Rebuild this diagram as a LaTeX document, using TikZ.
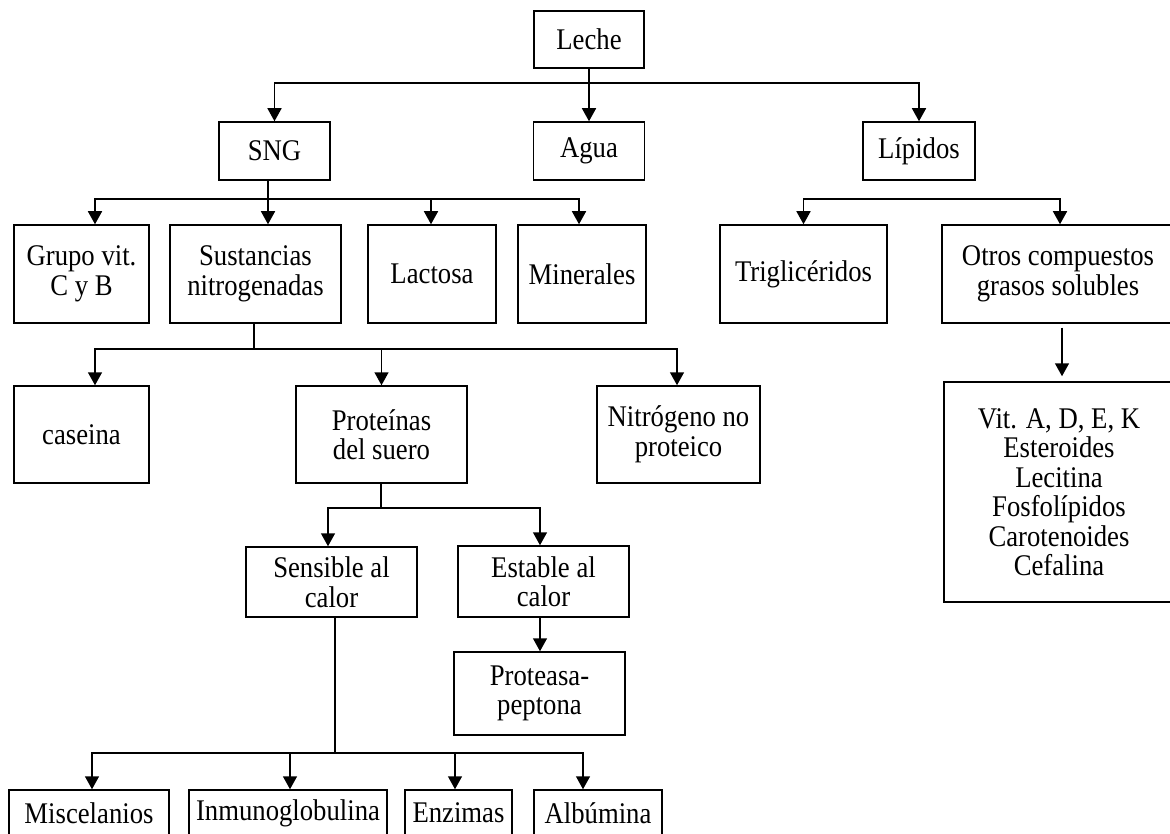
\documentclass[tikz,border=0pt]{standalone}
\usepackage{fontspec}
\setmainfont{Liberation Serif}[FakeStretch=0.89]
\usetikzlibrary{arrows.meta}

\tikzset{
    box/.style={draw=black, line width=1.5pt, fill=white, inner sep=0pt, align=center,
        font=\fontsize{30}{29.5}\selectfont},
    link/.style={draw=black, line width=1.5pt},
    arr/.style={link, -{Triangle[length=13pt, width=14pt]}}
}

\begin{document}
\begin{tikzpicture}[x=1pt, y=-1pt]
            \useasboundingbox (0,0) rectangle (1170,834);
            \clip (0,0) rectangle (1170,834);
            % top level
            \node[box, minimum width=110pt, minimum height=57pt] (leche) at (589,39.5) {Leche};
            \node[box, minimum width=111pt, minimum height=58pt] (sng) at (274.5,151) {SNG};
            \node[box, minimum width=111pt, minimum height=58pt] (agua) at (589,151) {Agua};
            \node[box, minimum width=112pt, minimum height=58pt] (lip) at (919,151) {Lípidos};
            % second row
            \node[box, minimum width=135pt, minimum height=98pt] (grupo) at (81.5,274) {Grupo vit.\\C y B};
            \node[box, minimum width=171pt, minimum height=98pt] (sust) at (255.5,274) {Sustancias\\nitrogenadas};
            \node[box, minimum width=128pt, minimum height=98pt] (lact) at (432,274) {Lactosa};
            \node[box, minimum width=128pt, minimum height=98pt] (mine) at (582,274) {Minerales};
            \node[box, minimum width=167pt, minimum height=98pt] (trig) at (803.5,274) {Triglicéridos};
            \node[box, minimum width=232pt, minimum height=98pt] (otros) at (1058,274) {Otros compuestos\\grasos solubles};
            % third row
            \node[box, minimum width=135pt, minimum height=97pt] (case) at (81.5,434.5) {caseina};
            \node[box, minimum width=171pt, minimum height=97pt] (prot) at (381.5,434.5) {Proteínas\\del suero};
            \node[box, minimum width=163pt, minimum height=97pt] (nitro) at (678.5,434.5) {Nitrógeno no\\proteico};
            \node[box, minimum width=230pt, minimum height=220pt] (vit) at (1059,492)
                {Vit. A, D, E, K\\Esteroides\\Lecitina\\Fosfolípidos\\Carotenoides\\Cefalina};
            % whey proteins
            \node[box, minimum width=171pt, minimum height=70pt] (sens) at (331.5,582) {Sensible al\\calor};
            \node[box, minimum width=171pt, minimum height=71pt] (esta) at (543.5,581.5) {Estable al\\calor};
            \node[box, minimum width=171pt, minimum height=83pt] (protea) at (539.5,693.5) {Proteasa-\\peptona};
            % bottom row
            \node[box, minimum width=160pt, minimum height=46pt] (misc) at (89,813) {Miscelanios};
            \node[box, minimum width=198pt, minimum height=46pt] (inmu) at (288,813) {Inmunoglobulina};
            \node[box, minimum width=107pt, minimum height=46pt] (enz) at (458.5,813) {Enzimas};
            \node[box, minimum width=128pt, minimum height=46pt] (alb) at (598,813) {Albúmina};

            % connectors
            \coordinate (b1) at (589,83);
            \draw[link] (leche.south) -- (b1);
            \draw[arr] (b1) -| (sng.north);
            \draw[arr] (b1) -- (agua.north);
            \draw[arr] (b1) -| (lip.north);

            \coordinate (b2) at (268,199);
            \draw[link] ([xshift=-6.5pt]sng.south) -- (b2);
            \draw[arr] (b2) -| ([xshift=13.5pt]grupo.north);
            \draw[arr] (b2) -- ([xshift=12.5pt]sust.north);
            \draw[arr] (b2) -| ([xshift=-1pt]lact.north);
            \draw[arr] (b2) -| ([xshift=-3pt]mine.north);

            \coordinate (b3) at (931,199);
            \draw[arr] (b3) -| (trig.north);
            \draw[arr] (b3) -| ([xshift=2pt]otros.north);
            \draw[arr] ([xshift=4pt, yshift=-4pt]otros.south) -- ([xshift=3pt, yshift=5pt]vit.north);

            \coordinate (b4) at (254,349);
            \draw[link] ([xshift=-1.5pt]sust.south) -- (b4);
            \draw[arr] (b4) -| ([xshift=13.5pt]case.north);
            \draw[arr] (b4) -| (prot.north);
            \draw[arr] (b4) -| ([xshift=-1.5pt]nitro.north);

            \coordinate (b5) at (381,508);
            \draw[link] ([xshift=-0.5pt]prot.south) -- (b5);
            \draw[arr] (b5) -| ([xshift=-3.5pt]sens.north);
            \draw[arr] (b5) -| ([xshift=-3.5pt]esta.north);
            \draw[arr] ([xshift=-3.5pt]esta.south) -- ([xshift=0.5pt]protea.north);

            \coordinate (b6) at (335,753);
            \draw[link] ([xshift=3.5pt]sens.south) -- (b6);
            \draw[arr] (b6) -| ([xshift=3pt]misc.north);
            \draw[arr] (b6) -| ([xshift=2pt]inmu.north);
            \draw[arr] (b6) -| ([xshift=-3.5pt]enz.north);
            \draw[arr] (b6) -| ([xshift=-15pt]alb.north);
        \end{tikzpicture}
\end{document}
